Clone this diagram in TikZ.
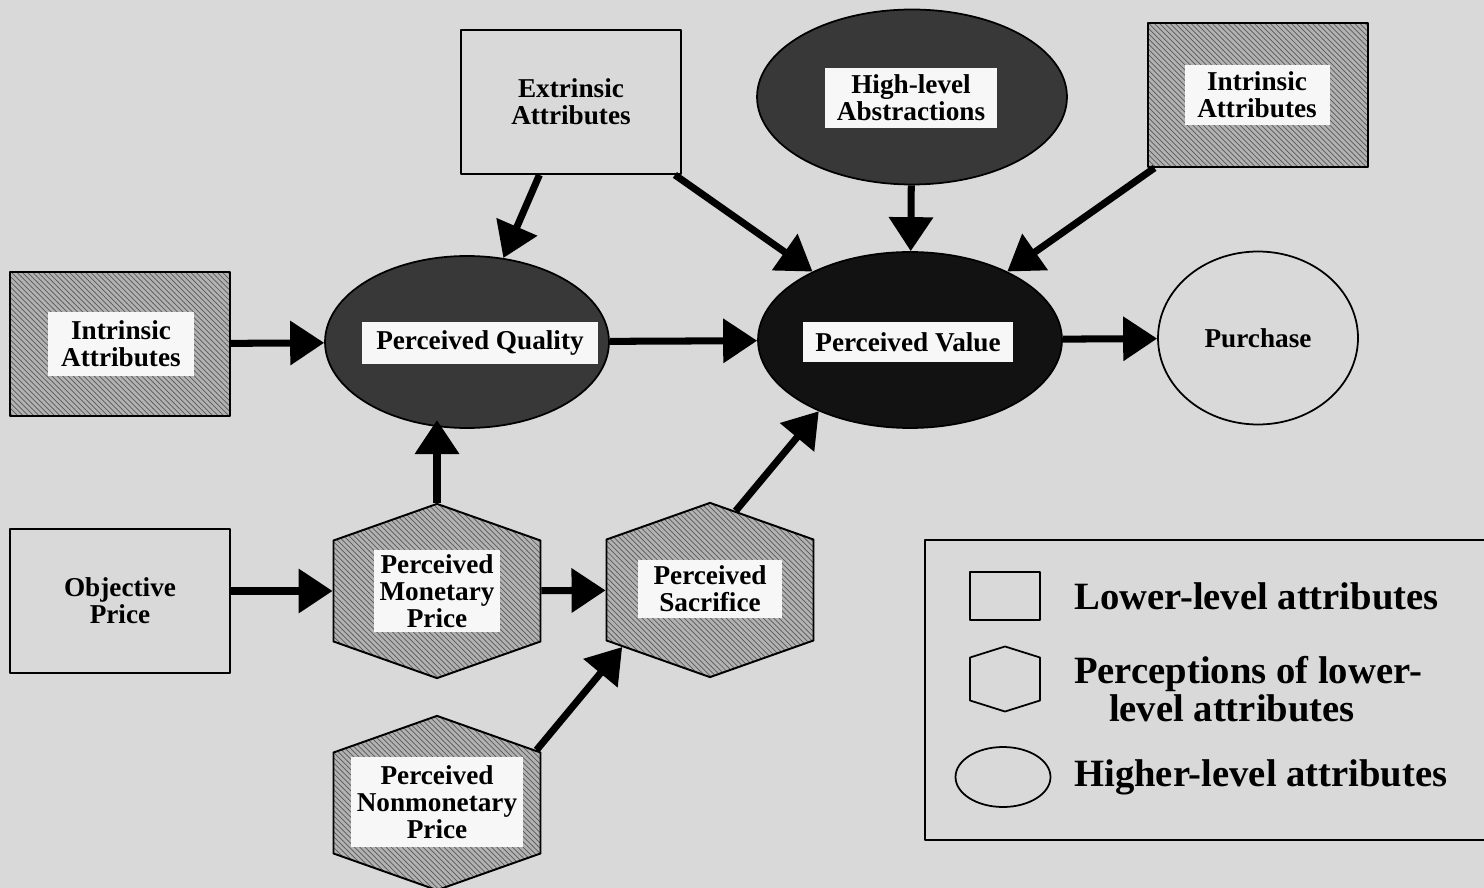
\documentclass[tikz,border=0pt]{standalone}
\usepackage{fontspec}
\setmainfont{Liberation Serif}
\usetikzlibrary{shapes.geometric,shapes.symbols,arrows.meta,patterns}

\begin{document}
\begin{tikzpicture}[x=0.02cm,y=-0.02cm,line join=round,
    font=\bfseries\fontsize{15.5}{15.5}\selectfont,
    >={Triangle[length=6.8mm,width=8.6mm]},
    link/.style={->,line width=4pt},
    lowbox/.style={draw,line width=1.1pt,inner sep=0pt,align=center,minimum width=4.4cm,minimum height=2.88cm},
    hatched/.style={preaction={fill=black!30},pattern=north west lines,pattern color=black!65},
    perc/.style={signal,signal to=north and south,signal pointer angle=141,draw,line width=1.1pt,inner sep=0pt,minimum width=4.14cm,minimum height=2.02cm,hatched},
    high/.style={ellipse,draw,line width=1pt,inner sep=0pt},
    tag/.style={fill=black!3,inner sep=0pt,align=center},
    legtext/.style={anchor=west,align=left,font=\bfseries\fontsize{22}{21.5}\selectfont}]
  \useasboundingbox (0,0) rectangle (1484,888);
  \clip (0,0) rectangle (1484,888);
  \fill[black!15] (0,0) rectangle (1484,888);

  % lower-level attributes
  \node[lowbox,hatched] (intrl) at (120,344) {};
  \node[lowbox] (extr) at (571,102) {Extrinsic\\Attributes};
  \node[lowbox,hatched] (intrr) at (1258,95) {};
  \node[lowbox] (objp) at (120,601) {Objective\\Price};

  % higher-level attributes
  \node[high,fill=black!78,minimum width=5.68cm,minimum height=3.44cm] (pq) at (467,342) {};
  \node[high,fill=black!78,minimum width=6.2cm,minimum height=3.5cm] (hla) at (912,97) {};
  \node[high,fill=black!93,minimum width=6.08cm,minimum height=3.52cm] (pv) at (910,340) {};
  \node[high,minimum width=4cm,minimum height=3.46cm] (pur) at (1258,338) {Purchase};

  % perceptions
  \node[perc] (pmp) at (437,591) {};
  \node[perc] (ps) at (710,590) {};
  \node[perc] (pnp) at (437,803) {};

  % white tags
  \node[tag,minimum width=2.94cm,minimum height=1.28cm] (intrl-t) at (121,344) {Intrinsic\\Attributes};
  \node[tag,minimum width=2.9cm,minimum height=1.2cm] (intrr-t) at (1257,95) {Intrinsic\\Attributes};
  \node[tag,minimum width=4.72cm,minimum height=0.84cm] (pq-t) at (480,343) {Perceived Quality};
  \node[tag,minimum width=3.46cm,minimum height=1.2cm] (hla-t) at (911,98) {High-level\\Abstractions};
  \node[tag,minimum width=4.2cm,minimum height=0.8cm] (pv-t) at (908,342) {Perceived Value};
  \node[tag,minimum width=2.54cm,minimum height=1.64cm] (pmp-t) at (437,591) {Perceived\\Monetary\\Price};
  \node[tag,minimum width=2.88cm,minimum height=1.16cm] (ps-t) at (710,589) {Perceived\\Sacrifice};
  \node[tag,minimum width=3.46cm,minimum height=1.8cm] (pnp-t) at (437,802) {Perceived\\Nonmonetary\\Price};

  % arrows
  \draw[link] (intrl) -- (pq);
  \draw[link] (extr) -- (pq);
  \draw[link] (extr) -- (pv);
  \draw[link] (pq) -- (pv);
  \draw[link] (hla) -- (pv);
  \draw[link] (intrr) -- (pv);
  \draw[link] (pv) -- (pur);
  \draw[link,shorten >=-5pt] (pmp.north) -- (pmp.north |- pq.south);
  \draw[link] (objp.east |- pmp) -- (pmp);
  \draw[link] (pmp) -- (ps);
  \draw[link] (pnp.28) -- (ps.213);
  \draw[link] (ps.72) -- (pv.218);

  % key
  \draw[line width=0.8pt] (925,540) rectangle (1500,840);
  \node[draw,line width=1pt,minimum width=1.4cm,minimum height=0.96cm] (keylow) at (1005,596) {};
  \node[signal,signal to=north and south,signal pointer angle=145,draw,line width=1pt,inner sep=0pt,minimum width=1.4cm,minimum height=0.86cm] (keyperc) at (1005,679) {};
  \node[ellipse,draw,line width=1pt,minimum width=1.9cm,minimum height=1.2cm] (keyhigh) at (1003,777) {};
  \node[legtext] (keylow-t) at (1068,596) {Lower-level attributes};
  \node[legtext] (keyperc-t) at (1068,689) {Perceptions of lower-\\\hspace*{0.9em}level attributes};
  \node[legtext] (keyhigh-t) at (1068,777) {Higher-level attributes};
\end{tikzpicture}
\end{document}
